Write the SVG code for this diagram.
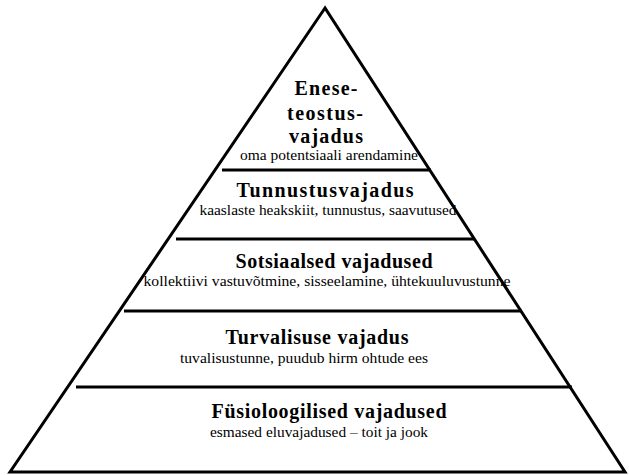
<svg xmlns="http://www.w3.org/2000/svg" width="629" height="475" viewBox="0 0 629 475">
<style>
.t{font-family:"Liberation Serif","Times New Roman",serif;font-weight:bold;font-size:20px;fill:#000;text-anchor:middle}
.s{font-family:"Liberation Serif","Times New Roman",serif;font-size:15px;fill:#000;text-anchor:middle}
.ln{stroke:#000;stroke-width:3;fill:none}
</style>
<rect width="629" height="475" fill="#fff"/>
<g id="pyramid">
<polygon class="ln" points="325,8 10,472 625,472" stroke-linejoin="miter"/>
</g>
<g id="connectors">
<line class="ln" x1="222" y1="170" x2="431" y2="170"/>
<line class="ln" x1="176" y1="239" x2="475" y2="239"/>
<line class="ln" x1="124" y1="311" x2="522" y2="311"/>
<line class="ln" x1="76" y1="387" x2="572" y2="387"/>
</g>
<g id="level5">
<text class="t" x="326" y="95" textLength="63" lengthAdjust="spacing">Enese-</text>
<text class="t" x="325" y="120" textLength="76" lengthAdjust="spacing">teostus-</text>
<text class="t" x="326" y="143" textLength="74" lengthAdjust="spacing">vajadus</text>
<text class="s" x="329" y="160" textLength="178" lengthAdjust="spacingAndGlyphs">oma potentsiaali arendamine</text>
</g>
<g id="level4">
<text class="t" x="325" y="197" textLength="177" lengthAdjust="spacing">Tunnustusvajadus</text>
<text class="s" x="328" y="215" textLength="257" lengthAdjust="spacingAndGlyphs">kaaslaste heakskiit, tunnustus, saavutused</text>
</g>
<g id="level3">
<text class="t" x="334" y="268" textLength="197" lengthAdjust="spacing">Sotsiaalsed vajadused</text>
<text class="s" x="327" y="286" textLength="367" lengthAdjust="spacingAndGlyphs">kollektiivi vastuvõtmine, sisseelamine, ühtekuuluvustunne</text>
</g>
<g id="level2">
<text class="t" x="317" y="344" textLength="183" lengthAdjust="spacing">Turvalisuse vajadus</text>
<text class="s" x="304" y="363" textLength="248" lengthAdjust="spacingAndGlyphs">tuvalisustunne, puudub hirm ohtude ees</text>
</g>
<g id="level1">
<text class="t" x="329" y="418" textLength="235" lengthAdjust="spacing">Füsioloogilised vajadused</text>
<text class="s" x="319" y="437" textLength="218" lengthAdjust="spacingAndGlyphs">esmased eluvajadused – toit ja jook</text>
</g>
</svg>
